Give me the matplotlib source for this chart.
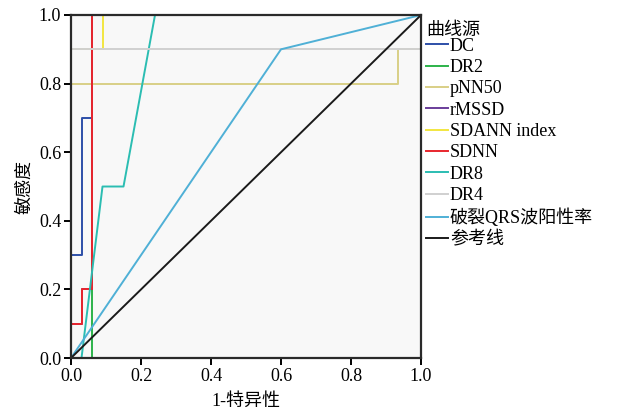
import matplotlib.pyplot as plt

plt.rcParams['font.family'] = ['Liberation Serif', 'Noto Sans CJK SC']

# ROC curves: (1-specificity, sensitivity)
dc_x = [0, 0, 0.03, 0.03, 0.06, 0.06, 1]
dc_y = [0, 0.3, 0.3, 0.7, 0.7, 1, 1]
dr2_x = [0, 0.06, 0.06, 1]
dr2_y = [0, 0, 1, 1]
pnn50_x = [0, 0, 0.935, 0.935, 1, 1]
pnn50_y = [0, 0.8, 0.8, 0.9, 0.9, 1]
rmssd_x = [0, 0, 0.03, 0.03, 0.06, 0.06, 1]
rmssd_y = [0, 0.1, 0.1, 0.2, 0.2, 1, 1]
sdann_x = [0, 0, 0.09, 0.09, 1]
sdann_y = [0, 0.9, 0.9, 1, 1]
sdnn_x = [0, 0, 0.03, 0.03, 0.06, 0.06, 1]
sdnn_y = [0, 0.1, 0.1, 0.2, 0.2, 1, 1]
dr8_x = [0, 0.03, 0.09, 0.15, 0.24, 1]
dr8_y = [0, 0, 0.5, 0.5, 1, 1]
dr4_x = [0, 0, 1, 1]
dr4_y = [0, 0.9, 0.9, 1]
qrs_x = [0, 0.6, 1]
qrs_y = [0, 0.9, 1]
ref_x = [0, 1]
ref_y = [0, 1]

series = [
    ('DC', dc_x, dc_y, '#2d4fa8'),
    ('DR2', dr2_x, dr2_y, '#2cb34a'),
    ('pNN50', pnn50_x, pnn50_y, '#d9cf86'),
    ('rMSSD', rmssd_x, rmssd_y, '#6a3d9a'),
    ('SDANN index', sdann_x, sdann_y, '#f2e640'),
    ('SDNN', sdnn_x, sdnn_y, '#e8262d'),
    ('DR8', dr8_x, dr8_y, '#2bbdb2'),
    ('DR4', dr4_x, dr4_y, '#d0d0d0'),
    ('破裂QRS波阳性率', qrs_x, qrs_y, '#4fb0d6'),
    ('参考线', ref_x, ref_y, '#1a1a1a'),
]

fig = plt.figure(figsize=(6.19, 4.12), dpi=100)
ax = fig.add_axes([0.1147, 0.131, 0.5655, 0.8326])
ax.set_facecolor('#f8f8f8')

for name, xs, ys, c in series:
    ax.plot(xs, ys, color=c, lw=1.4, label=name)

ax.set_xlim(0, 1)
ax.set_ylim(0, 1)
ax.set_xticks([0, 0.2, 0.4, 0.6, 0.8, 1.0])
ax.set_yticks([0, 0.2, 0.4, 0.6, 0.8, 1.0])
ax.tick_params(labelsize=13, direction='out', length=5, width=1.4, pad=2)
for s in ax.spines.values():
    s.set_linewidth(1.6)
    s.set_color('#2a2a2a')
    s.set_zorder(3)

ax.set_xlabel('1-特异性', fontsize=13, labelpad=6)
ax.set_ylabel('敏感度', fontsize=13, labelpad=4)

# legend title placed by hand so it sits close to the first entry
fig.text(0.689, 0.927, '曲线源', fontsize=13, va='center', ha='left')
ax.legend(loc='upper left', bbox_to_anchor=(1.0, 0.95),
          frameon=False, fontsize=13,
          handlelength=1.2, handletextpad=0.1, labelspacing=0.24,
          borderaxespad=0.1, borderpad=0.2)

fig.savefig('out.png', dpi=100)
